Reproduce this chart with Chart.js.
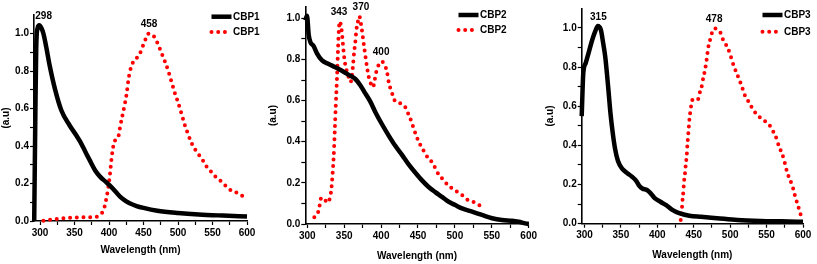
<!DOCTYPE html>
<html><head><meta charset="utf-8">
<script src="https://cdn.jsdelivr.net/npm/chart.js@4"></script>
<style>
html,body{margin:0;padding:0;background:#fff;width:817px;height:264px;overflow:hidden}
canvas{position:absolute;top:0}
</style></head><body>
<canvas id="c1" width="262" height="264" style="left:0px"></canvas>
<canvas id="c2" width="278" height="264" style="left:266px"></canvas>
<canvas id="c3" width="273" height="264" style="left:544px"></canvas>
<script>
const FONT = "'Liberation Sans Narrow','Liberation Sans',Arial,sans-serif";

// tick values
const xTicks = [300,325,350,375,400,425,450,475,500,525,550,575,600];
const yTicks = [0,0.1,0.2,0.3,0.4,0.5,0.6,0.7,0.8,0.9,1.0];

// CBP1 absorption (black)
const cbp1AbsX = [291.6,293.2,294.5,296.5,299,302,305,309,314,322,331,343,353,358,365,372,380,387,395,401,410,416,425,430,440,450,470,500,530,565,600];
const cbp1AbsY = [0.0,0.55,0.92,1.03,1.045,1.03,1.0,0.93,0.83,0.70,0.59,0.51,0.455,0.425,0.375,0.325,0.27,0.237,0.21,0.19,0.155,0.13,0.105,0.095,0.08,0.07,0.055,0.043,0.035,0.029,0.024];
// CBP1 emission (red dotted)
const cbp1EmX = [305,313,320,328,335,343,350,358,365,372,379,384.5,388,391.8,395.6,399,401.4,403.9,406.3,408.7,413.5,416,419.8,423.2,425.6,428,430.4,435.2,440.1,444.9,449.7,454.6,457,459.4,464.2,471.5,476.3,481.2,486,490.8,495.7,500.4,505.3,510.1,515,519.8,527,534.3,541.6,548.8,556,563.3,573,580,587.4,594.6];
const cbp1EmY = [0.002,0.006,0.009,0.012,0.015,0.017,0.018,0.019,0.02,0.02,0.021,0.026,0.038,0.055,0.11,0.18,0.25,0.34,0.40,0.43,0.45,0.50,0.57,0.63,0.68,0.75,0.80,0.85,0.87,0.895,0.94,0.985,1.0,0.997,0.99,0.94,0.895,0.85,0.80,0.74,0.68,0.63,0.57,0.51,0.46,0.415,0.37,0.334,0.29,0.26,0.23,0.21,0.174,0.157,0.148,0.13];

// CBP2 absorption (black)
const cbp2AbsX = [297.3,299.6,301.9,304.1,308.6,313.1,320,329,338,347,356.1,365.1,371.8,378.6,385.4,392.1,401.2,410.3,419.2,428.3,437.3,446.3,455.4,464.4,473.4,482.5,491.6,500.5,509.6,523.2,536.7,550.3,563.8,577.4,586.4,595.4,600];
const cbp2AbsY = [0.99,1.012,0.92,0.885,0.865,0.83,0.795,0.778,0.762,0.745,0.725,0.705,0.675,0.635,0.595,0.545,0.485,0.43,0.38,0.336,0.29,0.25,0.212,0.18,0.155,0.132,0.108,0.092,0.076,0.06,0.044,0.028,0.019,0.016,0.011,0.003,0.0];
// CBP2 emission (red dotted)
const cbp2EmX = [309.5,314.5,316.8,319,323.6,328,331.2,332.6,334.4,335.8,337.1,338.5,340.3,341.6,342.5,343.9,345.7,347,348.4,349.7,351.5,353.8,356.1,358.8,360.6,362,363.3,365.1,366.5,368.3,370.5,372.8,374.6,376.4,378.2,380.5,383.2,385.9,389.1,391.3,393.5,396.7,401.2,404.8,408,410.3,412.5,415.7,418.4,422.9,428.3,434.2,437.3,440.9,444.1,447.3,450.9,454.5,459.1,463.1,466.7,471.3,475.8,480.3,484.8,490.2,496.1,502.8,508.7,515,521.8,527.6,534.4];
const cbp2EmY = [0.033,0.055,0.092,0.128,0.117,0.104,0.136,0.17,0.25,0.33,0.44,0.57,0.716,0.846,0.927,0.985,0.963,0.927,0.87,0.82,0.773,0.74,0.713,0.69,0.724,0.773,0.83,0.886,0.943,0.98,1.01,0.972,0.927,0.878,0.83,0.773,0.716,0.684,0.665,0.70,0.74,0.773,0.79,0.773,0.74,0.69,0.66,0.627,0.60,0.59,0.583,0.56,0.53,0.50,0.465,0.433,0.40,0.376,0.347,0.324,0.311,0.287,0.254,0.23,0.214,0.19,0.173,0.157,0.144,0.122,0.11,0.104,0.088];

// CBP3 absorption (black)
const cbp3AbsX = [296.2,298.4,301.6,305.5,310.7,315,318.3,322.5,325.8,328.6,332.5,335.8,338.6,341.9,346,352,358.8,365.3,371,375,379.4,385.8,390.9,396,404.2,412.2,420,430,444,460,482,510,542,570,600];
const cbp3AbsY = [0.55,0.77,0.82,0.87,0.94,0.985,1.01,0.99,0.92,0.85,0.70,0.56,0.47,0.385,0.32,0.28,0.258,0.24,0.219,0.195,0.18,0.172,0.155,0.132,0.112,0.095,0.072,0.054,0.041,0.035,0.028,0.019,0.014,0.012,0.01];
// CBP3 emission (red dotted)
const cbp3EmX = [432.1,433.5,434.4,435.7,436.7,438,439,440.4,441.2,442.2,443.1,444,445,446.3,448.1,452.7,455.9,458.7,461.4,463.2,465.5,467.3,468.7,470.1,472.4,475.6,479.3,483.4,487.1,490.3,495.3,499.5,503,506.3,509.9,513.6,517.3,520.9,525.5,529.1,534.6,542,548.9,554.8,559.3,563.5,567.2,570.9,574,576.8,579.5,583.2,586.4,588.7,591.5,594.2,597,599.2];
const cbp3EmY = [0.019,0.061,0.112,0.163,0.215,0.257,0.30,0.35,0.40,0.445,0.487,0.53,0.564,0.598,0.632,0.64,0.636,0.675,0.709,0.748,0.785,0.828,0.866,0.904,0.939,0.981,0.998,0.985,0.973,0.939,0.908,0.871,0.828,0.794,0.76,0.726,0.687,0.649,0.623,0.598,0.567,0.539,0.521,0.499,0.47,0.436,0.393,0.36,0.326,0.283,0.249,0.215,0.181,0.147,0.112,0.079,0.044,0.028];

// peak labels
const peaks1 = [{text:'298', x:298, y:1.045, dx:5}, {text:'458', x:458, y:1.0, dx:0}];
const peaks2 = [{text:'343', x:343, y:0.985, dx:0}, {text:'370', x:370, y:1.01, dx:2}, {text:'400', x:400, y:0.79, dx:0}];
const peaks3 = [{text:'315', x:315, y:1.01, dx:3}, {text:'478', x:478, y:1.0, dx:0}];

const pts = (xs, ys) => xs.map((x, i) => ({x: x, y: ys[i]}));

const overlay = {
  id: 'overlay',
  afterDatasetsDraw(chart, args, opts) {
    const ctx = chart.ctx, xs = chart.scales.x, ys = chart.scales.y;
    ctx.save();
    ctx.font = 'bold 10px ' + FONT;
    ctx.fillStyle = '#000';
    ctx.textBaseline = 'middle';
    ctx.textAlign = 'center';
    opts.peaks.forEach(p => ctx.fillText(p.text, xs.getPixelForValue(p.x) + p.dx, ys.getPixelForValue(p.y) - 9));
    chart.data.datasets.forEach((ds, i) => {
      const y = opts.legY + i * opts.legGap;
      ctx.save();
      ctx.strokeStyle = ds.borderColor;
      ctx.lineWidth = ds.borderWidth;
      ctx.lineCap = ds.borderCapStyle || 'butt';
      ctx.setLineDash(ds.borderDash || []);
      ctx.beginPath();
      ctx.moveTo(opts.legX, y);
      ctx.lineTo(opts.legX + 20, y);
      ctx.stroke();
      ctx.restore();
      ctx.textAlign = 'left';
      ctx.fillText(ds.label, opts.legX + 21.5, y + 0.5);
    });
    ctx.restore();
  }
};

function makeChart(id, name, abs, em, peaks, g) {
  const tickFont = {family: FONT, size: 10, weight: 'bold'};
  return new Chart(document.getElementById(id), {
    type: 'line',
    data: {
      datasets: [
        {label: name, data: abs, borderColor: '#000', borderWidth: 4.5, pointRadius: 0,
         cubicInterpolationMode: 'monotone', borderCapStyle: 'butt', clip: 4},
        {label: name, data: em, borderColor: '#ff0000', borderWidth: 4, pointRadius: 0,
         cubicInterpolationMode: 'monotone', borderDash: [0, 6.7], borderCapStyle: 'round', clip: 4}
      ]
    },
    plugins: [overlay],
    options: {
      responsive: false,
      animation: false,
      events: [],
      layout: {padding: {left: 0, top: g.top, right: g.right, bottom: 0}},
      plugins: {
        legend: {display: false},
        tooltip: {enabled: false},
        overlay: {peaks: peaks, legX: g.legX, legY: g.legY, legGap: g.legGap}
      },
      scales: {
        x: {
          type: 'linear', min: g.xmin, max: 600,
          afterBuildTicks: s => { s.ticks = xTicks.map(v => ({value: v})); },
          afterFit: s => { s.height = g.xh; },
          ticks: {autoSkip: false, maxRotation: 0, padding: 2, color: '#000', font: tickFont,
                  callback: v => (v % 50 === 0 ? String(v) : '')},
          grid: {display: true, drawOnChartArea: false, drawTicks: true, tickLength: 4, tickColor: '#000', tickWidth: 1.2},
          border: {display: true, color: '#000', width: 1.6},
          title: {display: true, text: 'Wavelength (nm)', color: '#000', font: {family: FONT, size: 10, weight: 'bold'}, padding: {top: 0, bottom: g.xtPad}}
        },
        y: {
          type: 'linear', min: 0, max: g.ymax,
          afterBuildTicks: s => { s.ticks = yTicks.map(v => ({value: v})); },
          afterFit: s => { s.width = g.yw; },
          ticks: {autoSkip: false, padding: 1, color: '#000', font: tickFont,
                  callback: v => (Math.round(v * 10) % 2 === 0 ? v.toFixed(1) : '')},
          grid: {display: true, drawOnChartArea: false, drawTicks: true, tickLength: 4, tickColor: '#000', tickWidth: 1.2},
          border: {display: true, color: '#000', width: 1.6},
          title: {display: true, text: '(a.u)', color: '#000', font: {family: FONT, size: 10, weight: 'bold'}, padding: {top: g.ytPad, bottom: 0}}
        }
      }
    }
  });
}

makeChart('c1', 'CBP1', pts(cbp1AbsX, cbp1AbsY), pts(cbp1EmX, cbp1EmY), peaks1,
  {top: 15, right: 15, xh: 43, yw: 34, xmin: 291.3, ymax: 1.1, xtPad: 8, ytPad: 0, legX: 211.5, legY: 16.7, legGap: 15.3});
makeChart('c2', 'CBP2', pts(cbp2AbsX, cbp2AbsY), pts(cbp2EmX, cbp2EmY), peaks2,
  {top: 7, right: 15.3, xh: 40, yw: 39.3, xmin: 297.3, ymax: 1.055, xtPad: 2, ytPad: 1, legX: 192.5, legY: 15, legGap: 15});
makeChart('c3', 'CBP3', pts(cbp3AbsX, cbp3AbsY), pts(cbp3EmX, cbp3EmY), peaks3,
  {top: 8.4, right: 14, xh: 40.3, yw: 37.7, xmin: 296.2, ymax: 1.1, xtPad: 3, ytPad: 0, legX: 218.5, legY: 15, legGap: 16.7});
</script>
</body></html>
